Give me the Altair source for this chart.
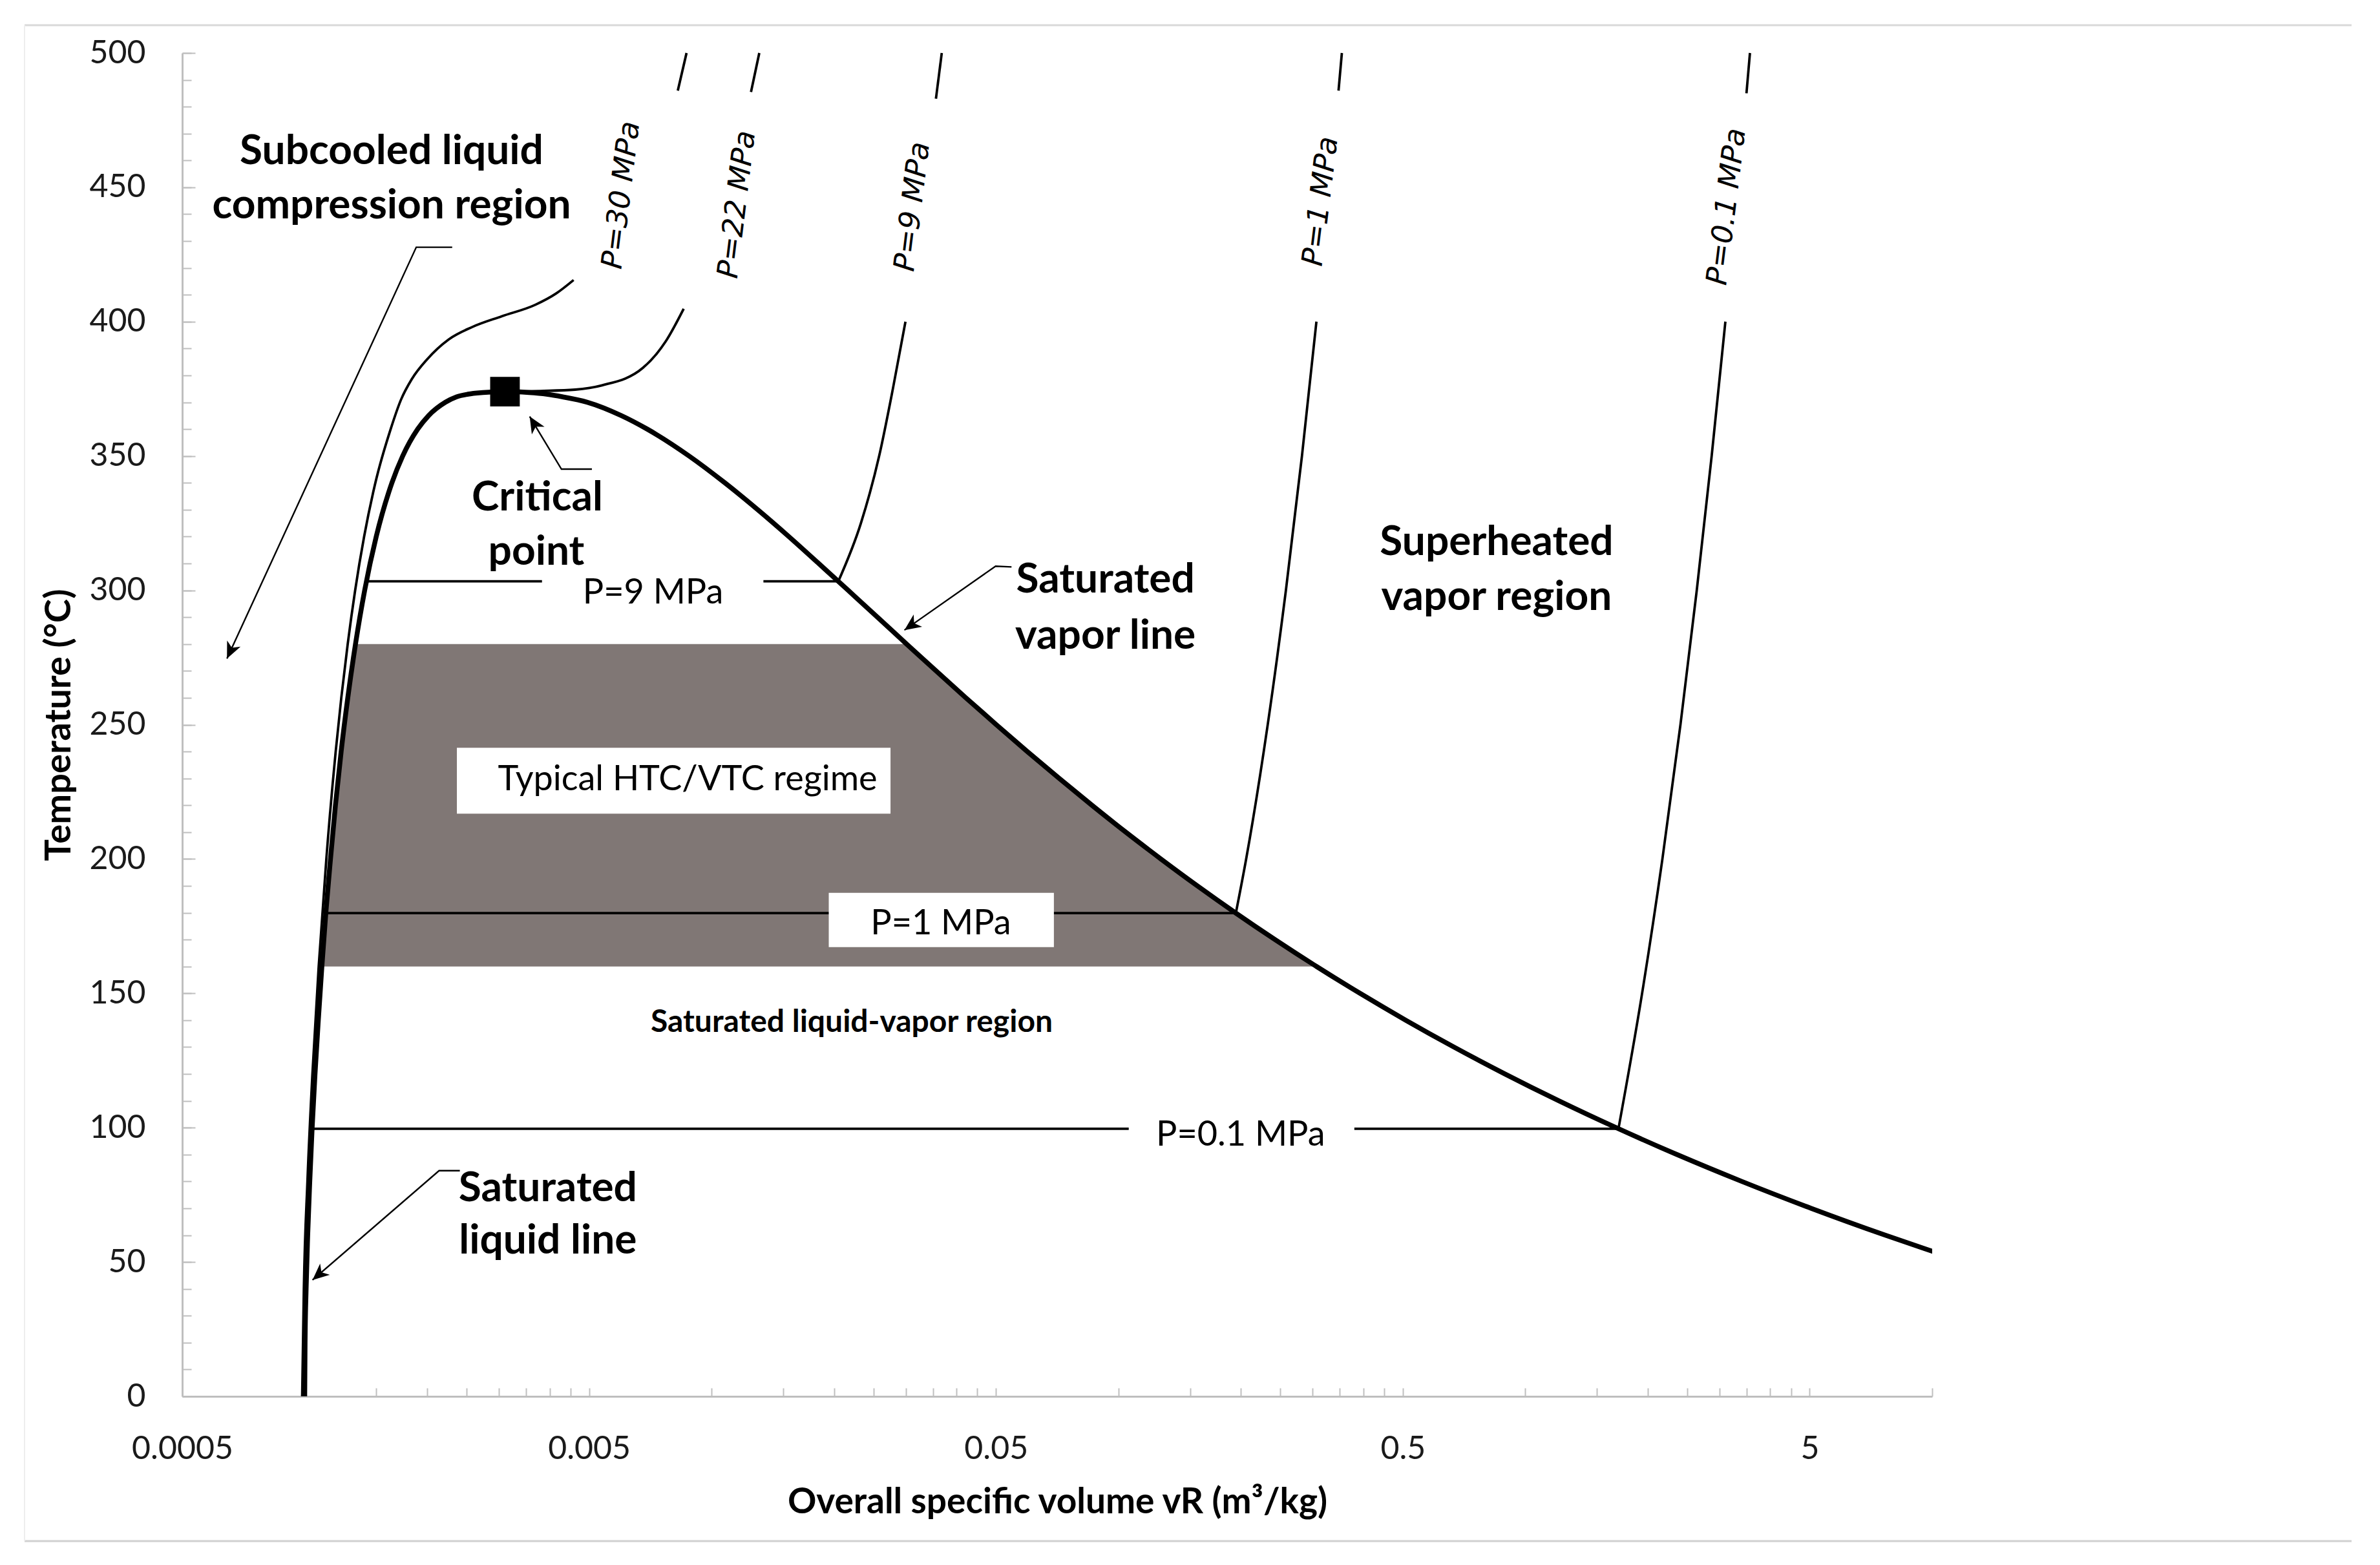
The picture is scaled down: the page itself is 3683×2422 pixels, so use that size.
import math
import altair as alt
import pandas as pd

# ---------------- axis tick values ----------------
x_major = [0.0005, 0.005, 0.05, 0.5, 5]
x_minor = [round(b * k, 6) for b in x_major for k in range(1, 10) if b * k <= 10.0001]
y_major = list(range(0, 501, 50))
y_minor = list(range(0, 501, 10))

liq_T = [0.01, 20, 40, 60, 80, 100, 120, 140, 160, 180, 200, 220, 240, 260, 280, 300,
         320, 340, 350, 360, 365, 370, 372, 373, 373.6]
liq_v = [0.001000, 0.001002, 0.001008, 0.001017, 0.001029, 0.001043, 0.001060, 0.001080,
         0.001102, 0.001127, 0.001157, 0.001190, 0.001229, 0.001276, 0.001333, 0.001404,
         0.001499, 0.001638, 0.001741, 0.001895, 0.002015, 0.002217, 0.00236, 0.00252, 0.00274]
crit_T = [373.95]
crit_v = [0.003106]
vap_T = [373.6, 373, 372, 370, 365, 360, 350, 340, 330, 320, 310, 300, 290, 280, 270, 260,
         250, 240, 230, 220, 210, 200, 190, 180, 170, 160, 150, 140, 130, 120, 110, 100,
         90, 80, 70, 60, 55, 50]
vap_v = [0.00356, 0.00393, 0.00431, 0.004953, 0.006009, 0.006950, 0.008806, 0.010783,
         0.012989, 0.015488, 0.018334, 0.021659, 0.025577, 0.030150, 0.035630, 0.042175,
         0.050085, 0.059707, 0.071525, 0.086094, 0.10422, 0.12721, 0.15636, 0.19384,
         0.24260, 0.30680, 0.39248, 0.50850, 0.66808, 0.89133, 1.2094, 1.6720, 2.3593,
         3.4053, 5.0396, 7.6670, 9.5639, 12.026]

# ---------------- typical HTC/VTC band (160-280 C inside the dome) ----------------
band_T = [160, 170, 180, 190, 200, 210, 220, 230, 240, 250, 260, 270, 280]
band_vf = [0.001102, 0.001114, 0.001127, 0.001141, 0.001157, 0.001173, 0.001190, 0.001209,
           0.001229, 0.001252, 0.001276, 0.001302, 0.001333]
band_vg = [0.30680, 0.24260, 0.19384, 0.15636, 0.12721, 0.10422, 0.086094, 0.071525,
           0.059707, 0.050085, 0.042175, 0.035630, 0.030150]

# ---------------- isobars ----------------
iso_30_T = [0.01, 40, 80, 120, 160, 200, 240, 260, 280, 300, 320, 340, 360, 371, 378.6, 386,
            393.4, 398, 402, 406.3, 410.5, 415.5]
iso_30_v = [0.0009857, 0.0009951, 0.0010155, 0.0010445, 0.0010823, 0.0011302, 0.0011916,
            0.0012300, 0.0012755, 0.0013304, 0.0013997, 0.0014916, 0.0016265, 0.001725,
            0.001833, 0.00200, 0.00226, 0.00258, 0.00305, 0.00369, 0.00415, 0.00458]
iso_30_top_T = [486, 500]
iso_30_top_v = [0.00826, 0.008679]
iso_22_T = [373.95, 374.2, 374.7, 376.3, 382.8, 392.6, 404.8]
iso_22_v = [0.00320, 0.00380, 0.00462, 0.00538, 0.00678, 0.00771, 0.00854]
iso_22_top_T = [485.5, 500]
iso_22_top_v = [0.0125, 0.0131]
iso_9_T = [303.35, 325, 350, 375, 400]
iso_9_v = [0.020489, 0.023284, 0.025816, 0.0279, 0.029960]
iso_9_top_T = [483, 500]
iso_9_top_v = [0.0356, 0.036793]
iso_1_T = [179.88, 200, 250, 300, 350, 400]
iso_1_v = [0.19437, 0.20602, 0.23275, 0.25799, 0.28250, 0.30661]
iso_1_top_T = [486, 500]
iso_1_top_v = [0.3475, 0.35411]
iso_01_T = [99.61, 150, 200, 250, 300, 350, 400]
iso_01_v = [1.6941, 1.9367, 2.1724, 2.4062, 2.6389, 2.8710, 3.1027]
iso_01_top_T = [485, 500]
iso_01_top_v = [3.496, 3.5655]

# horizontal isobars inside the dome (gaps leave room for labels)
h9_T = 303.35
h9_segments = [[0.001418, 0.00383], [0.01341, 0.020489]]
h1_T = 179.88
h1_segments = [[0.001127, 0.19437]]
h01_T = 99.61
h01_segments = [[0.001043, 0.106], [0.380, 1.6941]]

# ---------------- white label boxes ----------------
box_v1 = [0.01941, 0.002366]
box_v2 = [0.0694, 0.02753]
box_T1 = [167.2, 216.9]
box_T2 = [187.4, 241.4]

# ---------------- annotations ----------------
bold_text = ["Subcooled liquid", "compression region", "Critical", "point", "Saturated",
             "vapor line", "Superheated", "vapor region", "Saturated", "liquid line"]
bold_v = [0.001635, 0.001635, 0.00373, 0.00371, 0.0929, 0.0929, 0.85, 0.85, 0.00396, 0.00396]
bold_T = [463.3, 443.0, 334.4, 314.0, 303.7, 282.8, 317.7, 297.3, 77.2, 57.8]

mid_text = ["Saturated liquid-vapor region"]
mid_v = [0.0221]
mid_T = [139.0]

plain_text = ["P=9 MPa", "P=1 MPa", "P=0.1 MPa", "Typical HTC/VTC regime"]
plain_v = [0.00718, 0.0366, 0.1996, 0.00873]
plain_T = [299.0, 175.8, 97.2, 229.5]

rot_text = ["P=30 MPa", "P=22 MPa", "P=9 MPa", "P=1 MPa", "P=0.1 MPa"]
rot_v = [0.00600, 0.01155, 0.03117, 0.314, 3.126]
rot_T = [447.1, 443.6, 442.8, 444.8, 442.8]

callouts = {
    "sub": ([0.002304, 0.00188, 0.000644], [427.7, 427.7, 274.6]),
    "crit": ([0.00508, 0.004276, 0.003572], [345.1, 345.1, 364.7]),
    "vap": ([0.0546, 0.0499, 0.02978], [308.7, 309.0, 285.2]),
    "liq": ([0.002406, 0.002139, 0.001045], [84.0, 84.0, 43.3]),
}

# ---------------- layout ----------------
W, H = 2708, 2079
FONT = "Lato"
AX_GRAY = "#bfbfbf"
LOG0, LOG1 = math.log10(0.0005), math.log10(10)


def to_px(v, T):
    return (W * (math.log10(v) - LOG0) / (LOG1 - LOG0), H * (1 - T / 500.0))


xscale = alt.Scale(type="log", domain=[0.0005, 10], nice=False)
yscale = alt.Scale(domain=[0, 500], nice=False, zero=False)


def X(field, axis=None):
    return alt.X(field, type="quantitative", scale=xscale, axis=axis)


def Y(field, axis=None):
    return alt.Y(field, type="quantitative", scale=yscale, axis=axis)


ax_x_labels = alt.Axis(orient="bottom", values=x_major, format="~g", ticks=False, tickSize=0,
                       domain=True, domainColor=AX_GRAY, domainWidth=3, grid=False,
                       labelFont=FONT, labelFontSize=50, labelColor="#1a1a1a", labelPadding=56,
                       labelFlush=False, labelOverlap=False,
                       title="Overall specific volume vR (m³/kg)", titleFont=FONT,
                       titleFontSize=55, titleFontWeight="bold", titleColor="black",
                       titleY=163, titleX=W / 2, titleBaseline="middle", titleAlign="center")
ax_x_ticks = alt.Axis(orient="bottom", values=x_minor, labels=False, domain=False, ticks=True,
                      tickSize=13, tickWidth=2, tickColor=AX_GRAY, offset=-13, grid=False, title=None)
ax_y_labels = alt.Axis(orient="left", values=y_major, format="d", ticks=False, tickSize=0,
                       domain=True, domainColor=AX_GRAY, domainWidth=3, grid=False,
                       labelFont=FONT, labelFontSize=50, labelColor="#1a1a1a", labelPadding=57,
                       labelFlush=False, labelOverlap=False,
                       title="Temperature (°C)", titleFont=FONT, titleFontSize=56,
                       titleFontWeight="bold", titleColor="black", titleAngle=270,
                       titleX=-191, titleY=H / 2, titleBaseline="middle", titleAlign="center")
ax_y_major = alt.Axis(orient="left", values=y_major, labels=False, domain=False, ticks=True,
                      tickSize=20, tickWidth=2, tickColor=AX_GRAY, offset=-20, grid=False, title=None)
ax_y_minor = alt.Axis(orient="left", values=y_minor, labels=False, domain=False, ticks=True,
                      tickSize=14, tickWidth=2, tickColor=AX_GRAY, offset=-14, grid=False, title=None)

# ---------------- data frames ----------------
dome_df = pd.DataFrame({"v": liq_v + crit_v + vap_v, "T": liq_T + crit_T + vap_T})
band_df = pd.DataFrame({"T": band_T, "vf": band_vf, "vg": band_vg})

iso_rows = []
for name, vs, Ts in [("30", iso_30_v, iso_30_T), ("30t", iso_30_top_v, iso_30_top_T),
                     ("22", iso_22_v, iso_22_T), ("22t", iso_22_top_v, iso_22_top_T),
                     ("9", iso_9_v, iso_9_T), ("9t", iso_9_top_v, iso_9_top_T),
                     ("1", iso_1_v, iso_1_T), ("1t", iso_1_top_v, iso_1_top_T),
                     ("01", iso_01_v, iso_01_T), ("01t", iso_01_top_v, iso_01_top_T)]:
    for i, (v, T) in enumerate(zip(vs, Ts)):
        iso_rows.append({"seg": name, "v": v, "T": T, "o": i})
iso_df = pd.DataFrame(iso_rows)

h_rows = []
for name, T, segs in [("h9", h9_T, h9_segments), ("h1", h1_T, h1_segments), ("h01", h01_T, h01_segments)]:
    for j, seg in enumerate(segs):
        for i, v in enumerate(seg):
            h_rows.append({"seg": f"{name}_{j}", "v": v, "T": T, "o": i})
h_df = pd.DataFrame(h_rows)

box_df = pd.DataFrame({"v1": box_v1, "v2": box_v2, "T1": box_T1, "T2": box_T2})

c_rows, a_rows = [], []
for name, (vs, Ts) in callouts.items():
    for i, (v, T) in enumerate(zip(vs, Ts)):
        c_rows.append({"seg": name, "v": v, "T": T, "o": i})
    x0, y0 = to_px(vs[-2], Ts[-2])
    x1, y1 = to_px(vs[-1], Ts[-1])
    ang = math.degrees(math.atan2(x1 - x0, -(y1 - y0))) % 360
    a_rows.append({"v": vs[-1], "T": Ts[-1], "ang": ang})
c_df = pd.DataFrame(c_rows)
a_df = pd.DataFrame(a_rows)

bold_df = pd.DataFrame({"t": bold_text, "v": bold_v, "T": bold_T})
mid_df = pd.DataFrame({"t": mid_text, "v": mid_v, "T": mid_T})
plain_df = pd.DataFrame({"t": plain_text, "v": plain_v, "T": plain_T})
rot_df = pd.DataFrame({"t": rot_text, "v": rot_v, "T": rot_T})
crit_df = pd.DataFrame({"v": crit_v, "T": crit_T})
frame_df = pd.DataFrame({"a": [0]})

# ---------------- layers ----------------
frame_top = alt.Chart(frame_df).mark_rule(color="#d9d9d9", strokeWidth=3).encode(
    x=alt.value(-244), x2=alt.value(3357), y=alt.value(-43))
frame_bottom = alt.Chart(frame_df).mark_rule(color="#d0d0d0", strokeWidth=3).encode(
    x=alt.value(-244), x2=alt.value(3357), y=alt.value(2303))
frame_left = alt.Chart(frame_df).mark_rule(color="#eeeeee", strokeWidth=2).encode(
    x=alt.value(-244), y=alt.value(-43), y2=alt.value(2303))

band = alt.Chart(band_df).mark_area(orient="horizontal", color="#807775", interpolate="monotone").encode(
    y=Y("T", ax_y_labels), x=X("vf", ax_x_labels), x2="vg")

hlines = alt.Chart(h_df).mark_line(color="black", strokeWidth=3.8).encode(
    x=X("v"), y=Y("T"), detail="seg:N", order="o:Q")

boxes = alt.Chart(box_df).mark_rect(color="white").encode(
    x=X("v1"), x2="v2", y=Y("T1"), y2="T2")

isobars = alt.Chart(iso_df).mark_line(color="black", strokeWidth=3.8, interpolate="monotone").encode(
    x=X("v", ax_x_ticks), y=Y("T", ax_y_major), detail="seg:N", order="o:Q")

dome = alt.Chart(dome_df).mark_line(color="black", strokeWidth=7.5, interpolate="monotone", clip=True).encode(
    x=X("v"), y=Y("T", ax_y_minor))

crit = alt.Chart(crit_df).mark_square(color="black", size=2100, opacity=1).encode(
    x=X("v"), y=Y("T"))

callout_lines = alt.Chart(c_df).mark_line(color="black", strokeWidth=2.4).encode(
    x=X("v"), y=Y("T"), detail="seg:N", order="o:Q")

arrows = alt.Chart(a_df).mark_point(shape="M0,0L-0.45,1L0,0.72L0.45,1Z", filled=True, color="black",
                                    size=2600, opacity=1, strokeWidth=0).encode(
    x=X("v"), y=Y("T"), angle=alt.Angle("ang:Q", scale=None))

bold_lbl = alt.Chart(bold_df).mark_text(font=FONT, fontSize=64, fontWeight="bold", color="black",
                                        align="center", baseline="middle").encode(
    x=X("v"), y=Y("T"), text="t:N")
mid_lbl = alt.Chart(mid_df).mark_text(font=FONT, fontSize=48, fontWeight="bold", color="black",
                                      align="center", baseline="middle").encode(
    x=X("v"), y=Y("T"), text="t:N")
plain_lbl = alt.Chart(plain_df).mark_text(font=FONT, fontSize=54, color="black",
                                          align="center", baseline="middle").encode(
    x=X("v"), y=Y("T"), text="t:N")
rot_lbl = alt.Chart(rot_df).mark_text(font="DejaVu Sans", fontSize=45, fontStyle="italic", color="black",
                                      align="center", baseline="middle", angle=277).encode(
    x=X("v"), y=Y("T"), text="t:N")

chart = alt.layer(
    frame_top, frame_bottom, frame_left,
    band, hlines, boxes, isobars, dome, crit, callout_lines, arrows,
    bold_lbl, mid_lbl, plain_lbl, rot_lbl,
).resolve_axis(x="independent", y="independent").properties(
    width=W, height=H,
    padding={"left": 274, "top": 74, "right": 670, "bottom": 240},
    autosize=alt.AutoSizeParams(type="none"),
    background="white",
).configure_view(stroke="transparent")

chart.save("out.html", embed_options={"renderer": "svg", "actions": False})
